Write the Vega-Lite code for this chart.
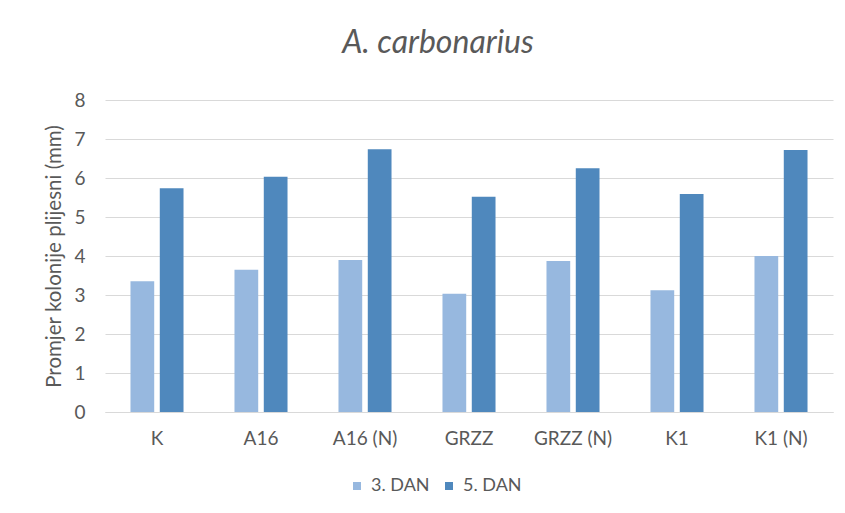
{
  "$schema": "https://vega.github.io/schema/vega-lite/v6.json",
  "width": 728,
  "height": 312,
  "autosize": "none",
  "padding": {"left": 105, "top": 100, "right": 12, "bottom": 101},
  "background": "white",
  "title": {
    "text": "A. carbonarius",
    "font": "Lato",
    "fontStyle": "italic",
    "fontWeight": "normal",
    "fontSize": 32,
    "color": "#595959",
    "anchor": "middle",
    "offset": 31,
    "dx": -31
  },
  "data": {
    "values": [
      {"uzorak": "K", "dan": "3. DAN", "v": 3.35},
      {"uzorak": "K", "dan": "5. DAN", "v": 5.74},
      {"uzorak": "A16", "dan": "3. DAN", "v": 3.65},
      {"uzorak": "A16", "dan": "5. DAN", "v": 6.03},
      {"uzorak": "A16 (N)", "dan": "3. DAN", "v": 3.9},
      {"uzorak": "A16 (N)", "dan": "5. DAN", "v": 6.74},
      {"uzorak": "GRZZ", "dan": "3. DAN", "v": 3.03},
      {"uzorak": "GRZZ", "dan": "5. DAN", "v": 5.52},
      {"uzorak": "GRZZ (N)", "dan": "3. DAN", "v": 3.87},
      {"uzorak": "GRZZ (N)", "dan": "5. DAN", "v": 6.25},
      {"uzorak": "K1", "dan": "3. DAN", "v": 3.12},
      {"uzorak": "K1", "dan": "5. DAN", "v": 5.59},
      {"uzorak": "K1 (N)", "dan": "3. DAN", "v": 4.0},
      {"uzorak": "K1 (N)", "dan": "5. DAN", "v": 6.72}
    ]
  },
  "mark": {"type": "bar"},
  "encoding": {
    "x": {
      "field": "uzorak",
      "type": "nominal",
      "sort": null,
      "scale": {"paddingInner": 0.49, "paddingOuter": 0.245},
      "axis": {
        "title": null,
        "labelAngle": 0,
        "labelFont": "Lato",
        "labelFontSize": 19,
        "labelColor": "#595959",
        "labelPadding": 17,
        "ticks": false,
        "domainColor": "#d9d9d9",
        "domainWidth": 1
      }
    },
    "xOffset": {
      "field": "dan",
      "type": "nominal",
      "scale": {"paddingInner": 0.19, "paddingOuter": 0}
    },
    "y": {
      "field": "v",
      "type": "quantitative",
      "scale": {"domain": [0, 8], "nice": false},
      "axis": {
        "title": "Promjer kolonije plijesni (mm)",
        "titleFont": "Lato",
        "titleFontSize": 20.5,
        "titleFontWeight": "normal",
        "titleColor": "#595959",
        "titlePadding": 9,
        "values": [0, 1, 2, 3, 4, 5, 6, 7, 8],
        "labelFont": "Lato",
        "labelFontSize": 19,
        "labelColor": "#595959",
        "labelPadding": 20,
        "ticks": false,
        "domain": false,
        "grid": true,
        "gridColor": "#d9d9d9",
        "gridWidth": 1
      }
    },
    "color": {
      "field": "dan",
      "type": "nominal",
      "scale": {"domain": ["3. DAN", "5. DAN"], "range": ["#97b8df", "#4f88bd"]},
      "legend": {
        "title": null,
        "orient": "none",
        "direction": "horizontal",
        "legendX": 243,
        "legendY": 377,
        "symbolType": "square",
        "symbolSize": 64,
        "symbolStrokeWidth": 0,
        "labelFont": "Lato",
        "labelFontSize": 18,
        "labelColor": "#595959",
        "columnPadding": 10,
        "labelOffset": 5
      }
    }
  },
  "config": {
    "view": {"stroke": null}
  }
}
